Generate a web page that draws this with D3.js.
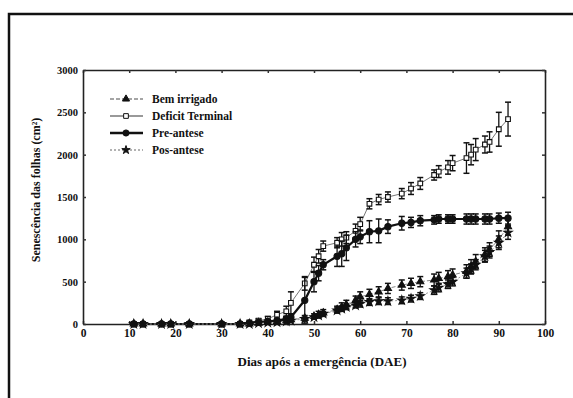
<!DOCTYPE html>
<html>
<head>
<meta charset="utf-8">
<script src="https://cdn.jsdelivr.net/npm/d3@7"></script>
<style>
  body { margin: 0; background: #fff; }
  svg text { font-weight: bold; fill: #111; }
</style>
</head>
<body>
<div id="chart"></div>
<script>
// days after emergence (DAE)
var days = [11, 13, 17, 19, 23, 30, 34, 36, 38, 40, 42, 44, 45, 48, 50, 51, 52, 55, 56, 57, 59, 60,
            62, 64, 66, 69, 71, 73, 76, 77, 79, 80, 83, 84, 85, 87, 88, 90, 92];

var bemIrrigado = [0, 0, 0, 0, 0, 0, 0, 0, 10, 20, 30, 40, 50, 70, 90, 110, 130, 170, 200, 230, 280, 320,
                   350, 380, 420, 460, 480, 500, 520, 540, 560, 580, 620, 680, 740, 820, 880, 1000, 1150];
var deficitTerminal = [0, 0, 0, 0, 0, 0, 0, 20, 40, 60, 110, 150, 250, 480, 700, 800, 920, 960, 1000, 1020, 1100, 1180,
                       1420, 1470, 1500, 1540, 1600, 1660, 1760, 1800, 1850, 1900, 1960, 2000, 2060, 2120, 2150, 2300, 2420];
var preAntese = [0, 0, 0, 0, 0, 0, 0, 10, 20, 30, 40, 60, 80, 280, 500, 600, 700, 800, 830, 900, 1000, 1030,
                 1090, 1100, 1150, 1190, 1200, 1220, 1230, 1240, 1240, 1240, 1240, 1240, 1240, 1240, 1240, 1250, 1250];
var posAntese = [0, 0, 0, 0, 0, 0, 0, 0, 10, 15, 20, 30, 40, 60, 80, 100, 120, 160, 180, 200, 220, 240,
                 260, 270, 270, 280, 300, 330, 400, 430, 470, 500, 600, 650, 700, 800, 850, 960, 1080];

// error bar half widths
var errBem = [0, 0, 0, 0, 0, 0, 0, 0, 10, 10, 15, 20, 20, 30, 30, 40, 40, 40, 50, 50, 50, 60,
              60, 60, 60, 60, 60, 60, 70, 70, 70, 70, 80, 80, 80, 80, 80, 100, 100];
var errDeficit = [0, 0, 0, 0, 0, 0, 0, 10, 20, 30, 40, 60, 130, 80, 90, 80, 60, 60, 80, 70, 80, 80,
                  60, 60, 60, 60, 70, 70, 60, 70, 80, 90, 180, 120, 130, 100, 120, 200, 200];
var errPre = [0, 0, 0, 0, 0, 0, 0, 10, 10, 20, 20, 30, 40, 270, 120, 90, 60, 120, 150, 150, 90, 80,
              130, 140, 80, 80, 60, 60, 50, 50, 50, 50, 60, 60, 60, 60, 60, 60, 70];
var errPos = [0, 0, 0, 0, 0, 0, 0, 0, 10, 10, 10, 15, 15, 20, 20, 20, 25, 30, 30, 30, 30, 40,
              40, 40, 40, 40, 40, 40, 50, 50, 50, 50, 60, 60, 60, 70, 70, 80, 80];

var seriesNames = ["Bem irrigado", "Deficit Terminal", "Pre-antese", "Pos-antese"];
var xTicks = [0, 10, 20, 30, 40, 50, 60, 70, 80, 90, 100];
var yTicks = [0, 500, 1000, 1500, 2000, 2500, 3000];

var serif = "'Liberation Serif', 'Times New Roman', Times, 'DejaVu Serif', serif";
var width = 573, height = 398;
var margin = {left: 83, right: 28, top: 70, bottom: 74};

var svg = d3.select("#chart").append("svg")
  .attr("width", width)
  .attr("height", height)
  .attr("font-family", serif);

// scanned page frame
svg.append("path")
  .attr("d", "M9,398 L9,14 L573,14")
  .attr("fill", "none")
  .attr("stroke", "#111")
  .attr("stroke-width", 2.5);

var x = d3.scaleLinear().domain([0, 100]).range([margin.left, width - margin.right]);
var y = d3.scaleLinear().domain([0, 3000]).range([height - margin.bottom, margin.top]);

// axes with inner ticks on all four sides
svg.append("g")
  .attr("transform", "translate(0," + y(0) + ")")
  .call(d3.axisBottom(x).tickValues(xTicks).tickFormat(d3.format("d")).tickSizeInner(-3).tickSizeOuter(0).tickPadding(5))
  .call(g => g.attr("font-family", serif).selectAll("text").style("font-size", "11.5px"));
svg.append("g")
  .attr("transform", "translate(0," + y(3000) + ")")
  .call(d3.axisTop(x).tickValues(xTicks).tickSizeInner(-3).tickSizeOuter(0).tickFormat(""));
svg.append("g")
  .attr("transform", "translate(" + x(0) + ",0)")
  .call(d3.axisLeft(y).tickValues(yTicks).tickFormat(d3.format("d")).tickSizeInner(-3).tickSizeOuter(0).tickPadding(5))
  .call(g => g.attr("font-family", serif).selectAll("text").style("font-size", "10.5px"));
svg.append("g")
  .attr("transform", "translate(" + x(100) + ",0)")
  .call(d3.axisRight(y).tickValues(yTicks).tickSizeInner(-3).tickSizeOuter(0).tickFormat(""));
svg.selectAll(".domain").attr("stroke", "#222").attr("stroke-width", 1.6);
svg.selectAll(".tick line").attr("stroke", "#333").attr("stroke-width", 1.5);

svg.append("text")
  .attr("x", (x(0) + x(100)) / 2 + 8)
  .attr("y", 366)
  .attr("text-anchor", "middle")
  .style("font-size", "13px")
  .text("Dias após a emergência (DAE)");

svg.append("text")
  .attr("transform", "translate(40,190) rotate(-90)")
  .attr("text-anchor", "middle")
  .style("font-size", "12px")
  .text("Senescência das folhas (cm²)");

var series = [
  {name: seriesNames[0], values: bemIrrigado, err: errBem, line: "#888", lw: 1, dash: "4,2", marker: "triangle", fill: "#111", size: 22},
  {name: seriesNames[1], values: deficitTerminal, err: errDeficit, line: "#777", lw: 1, dash: null, marker: "square", fill: "#fff", size: 22},
  {name: seriesNames[2], values: preAntese, err: errPre, line: "#111", lw: 2.2, dash: null, marker: "circle", fill: "#111", size: 30},
  {name: seriesNames[3], values: posAntese, err: errPos, line: "#999", lw: 1, dash: "2,2", marker: "star", fill: "#111", size: 22}
];
var symbols = {triangle: d3.symbolTriangle, square: d3.symbolSquare, circle: d3.symbolCircle, star: d3.symbolStar};

var line = d3.line()
  .x(d => x(d[0]))
  .y(d => y(d[1]));

series.forEach(function(s) {
  var pts = days.map((d, i) => [d, s.values[i], s.err[i]]);
  var g = svg.append("g");

  g.append("path")
    .datum(pts)
    .attr("d", line)
    .attr("fill", "none")
    .attr("stroke", s.line)
    .attr("stroke-width", s.lw)
    .attr("stroke-dasharray", s.dash);

  // error bars
  var eb = g.selectAll(".eb").data(pts.filter(p => p[2] > 0)).enter().append("g");
  eb.append("line")
    .attr("x1", p => x(p[0])).attr("x2", p => x(p[0]))
    .attr("y1", p => y(p[1] - p[2])).attr("y2", p => y(p[1] + p[2]))
    .attr("stroke", "#111").attr("stroke-width", 1.3);
  eb.append("line")
    .attr("x1", p => x(p[0]) - 3).attr("x2", p => x(p[0]) + 3)
    .attr("y1", p => y(p[1] + p[2])).attr("y2", p => y(p[1] + p[2]))
    .attr("stroke", "#111").attr("stroke-width", 1.5);
  eb.append("line")
    .attr("x1", p => x(p[0]) - 3).attr("x2", p => x(p[0]) + 3)
    .attr("y1", p => y(p[1] - p[2])).attr("y2", p => y(p[1] - p[2]))
    .attr("stroke", "#111").attr("stroke-width", 1.5);

  g.selectAll(".pt").data(pts).enter().append("path")
    .attr("transform", p => "translate(" + x(p[0]) + "," + y(p[1]) + ")")
    .attr("d", d3.symbol().type(symbols[s.marker]).size(s.size))
    .attr("fill", s.fill)
    .attr("stroke", "#111")
    .attr("stroke-width", 1.1);
});

// legend
var legend = svg.selectAll(".legend")
  .data(series)
  .enter().append("g")
  .attr("class", "legend")
  .attr("transform", (d, i) => "translate(110," + (99 + i * 17) + ")");

legend.append("line")
  .attr("x1", 0).attr("x2", 33)
  .attr("stroke", d => d.line)
  .attr("stroke-width", d => d.lw + 0.5)
  .attr("stroke-dasharray", d => d.dash);
legend.append("path")
  .attr("transform", "translate(16,0)")
  .attr("d", d => d3.symbol().type(symbols[d.marker]).size(d.size)())
  .attr("fill", d => d.fill)
  .attr("stroke", "#111");
legend.append("text")
  .attr("x", 42)
  .attr("y", 4)
  .style("font-size", "11.5px")
  .text(d => d.name);
</script>
</body>
</html>
